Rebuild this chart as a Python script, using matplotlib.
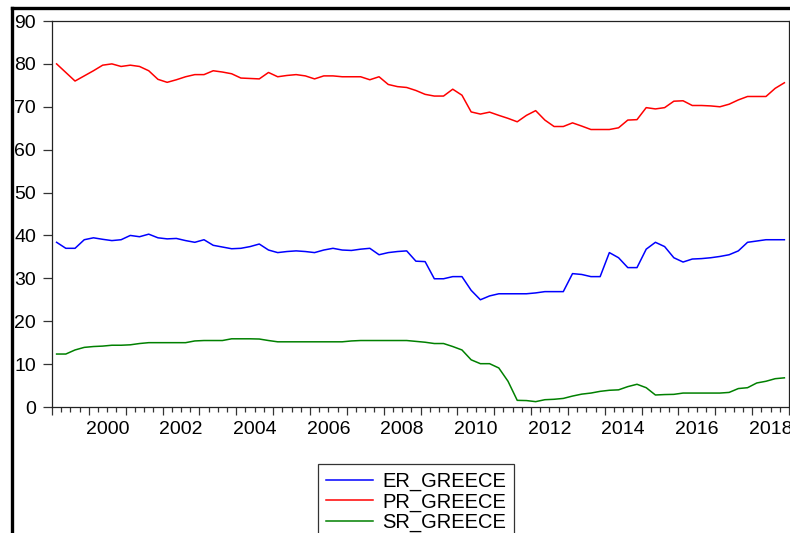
import numpy as np
import matplotlib.pyplot as plt
from matplotlib.lines import Line2D

# quarterly observations 1999Q1 .. 2018Q4
start_year = 1999
n_obs = 80

er_greece = [38.4, 37.0, 37.0, 39.0, 39.45, 39.1, 38.8, 39.0, 40.0, 39.7,
             40.3, 39.45, 39.2, 39.3, 38.8, 38.4, 39.0, 37.7, 37.3, 36.9,
             37.0, 37.4, 38.0, 36.6, 36.0, 36.25, 36.4, 36.25, 36.0, 36.6,
             37.0, 36.6, 36.5, 36.8, 37.0, 35.5, 36.0, 36.25, 36.4, 34.0,
             33.9, 29.9, 29.9, 30.4, 30.4, 27.2, 25.0, 25.9, 26.4, 26.4,
             26.4, 26.4, 26.6, 26.9, 26.9, 26.9, 31.1, 30.9, 30.4, 30.4,
             36.0, 34.8, 32.5, 32.5, 36.8, 38.4, 37.4, 34.8, 33.8, 34.5,
             34.6, 34.8, 35.1, 35.5, 36.4, 38.4, 38.7, 39.0, 39.0, 39.0]

pr_greece = [80.0, 78.0, 76.0, 77.2, 78.4, 79.7, 80.0, 79.4, 79.7, 79.4,
             78.4, 76.4, 75.7, 76.3, 77.0, 77.5, 77.5, 78.4, 78.1, 77.7,
             76.7, 76.6, 76.5, 78.0, 77.0, 77.3, 77.5, 77.2, 76.5, 77.2,
             77.2, 77.0, 77.0, 77.0, 76.3, 77.0, 75.2, 74.7, 74.5, 73.8,
             72.9, 72.5, 72.5, 74.1, 72.7, 68.8, 68.3, 68.75, 68.0, 67.3,
             66.5, 68.0, 69.1, 66.9, 65.4, 65.4, 66.25, 65.5, 64.7, 64.7,
             64.7, 65.1, 66.9, 67.0, 69.8, 69.5, 69.8, 71.3, 71.4, 70.3,
             70.3, 70.2, 70.0, 70.6, 71.6, 72.4, 72.4, 72.4, 74.3, 75.6]

sr_greece = [12.35, 12.35, 13.3, 13.9, 14.1, 14.2, 14.4, 14.4, 14.5, 14.8,
             15.0, 15.0, 15.0, 15.0, 15.0, 15.4, 15.5, 15.5, 15.5, 15.9,
             15.9, 15.9, 15.85, 15.5, 15.2, 15.2, 15.2, 15.2, 15.2, 15.2,
             15.2, 15.2, 15.4, 15.5, 15.5, 15.5, 15.5, 15.5, 15.5, 15.3,
             15.1, 14.8, 14.8, 14.1, 13.3, 11.0, 10.1, 10.1, 9.1, 6.0,
             1.55, 1.5, 1.25, 1.7, 1.8, 2.0, 2.55, 3.0, 3.25, 3.65,
             3.9, 4.0, 4.75, 5.3, 4.5, 2.8, 2.9, 2.95, 3.25, 3.25,
             3.25, 3.25, 3.25, 3.4, 4.3, 4.5, 5.6, 6.0, 6.6, 6.8]

year_labels = [str(y) for y in range(2000, 2019, 2)]
y_ticks = list(range(0, 91, 10))

plt.rcParams['font.family'] = ['Liberation Sans', 'DejaVu Sans']

fig = plt.figure(figsize=(7.9, 5.33), dpi=100)
ax = fig.add_axes([52/790, 1 - 407/533, 737/790, (407 - 21)/533])

# each quarter centred in its slot, years on the integer boundaries
t = start_year + (np.arange(n_obs) + 0.5) / 4

ax.plot(t, er_greece, color='#0000ff', lw=1.1, label='ER_GREECE')
ax.plot(t, pr_greece, color='#ff0000', lw=1.1, label='PR_GREECE')
ax.plot(t, sr_greece, color='#008000', lw=1.1, label='SR_GREECE')

ax.set_xlim(start_year, start_year + n_obs / 4)
ax.set_ylim(0, 90)
ax.set_yticks(y_ticks)
ax.tick_params(axis='y', direction='out', length=6.5, width=0.9,
               labelsize=14, pad=5, colors='#333333', labelcolor='black')

ax.set_xticks(np.arange(start_year, start_year + n_obs / 4 + 1))
ax.set_xticks(np.arange(start_year, start_year + n_obs / 4, 0.25), minor=True)
ax.tick_params(axis='x', which='major', direction='out', length=5.8,
               width=0.9, labelbottom=False, colors='#333333')
ax.tick_params(axis='x', which='minor', direction='out', length=3.3,
               width=0.9, colors='#333333')

sec = ax.secondary_xaxis('bottom')
sec.set_xticks([int(y) + 0.5 for y in year_labels], labels=year_labels)
sec.tick_params(length=0, labelsize=14, pad=10)
sec.spines['bottom'].set_visible(False)

for s in ax.spines.values():
    s.set_linewidth(0.9)
    s.set_color('#222222')

# thick outer frame (EViews style), partly outside the picture
fig.add_artist(Line2D([12/790, 12/790], [1 - 8/533, -0.1], color='black',
                      lw=2.4, transform=fig.transFigure, clip_on=False))
fig.add_artist(Line2D([12/790, 1.1], [1 - 8/533, 1 - 8/533], color='black',
                      lw=2.4, transform=fig.transFigure, clip_on=False))

leg = fig.legend(loc='upper left', bbox_to_anchor=(318/790, 1 - 464/533),
                 fontsize=14.5, frameon=True, fancybox=False, edgecolor='black',
                 handlelength=2.35, handletextpad=0.45, labelspacing=0.06,
                 borderpad=0.4, borderaxespad=0)
leg.get_frame().set_linewidth(0.9)

fig.savefig('out.png', dpi=100)
